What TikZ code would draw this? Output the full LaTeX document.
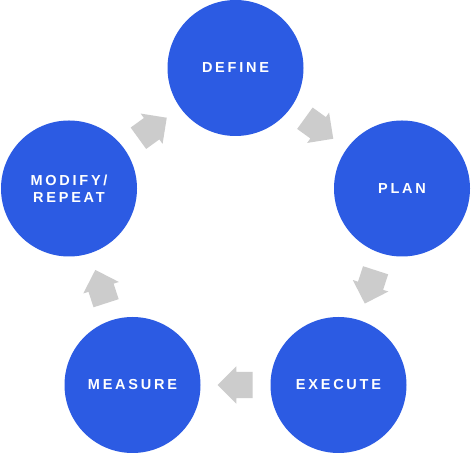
\documentclass[tikz,border=0pt]{standalone}
\usepackage{fontspec}
\setmainfont{Liberation Sans}
\usetikzlibrary{shapes.arrows}

\begin{document}
\begin{tikzpicture}[
        x=1pt,
        y=1pt,
        stage/.style={
            circle,
            fill=stageblue,
            draw=none,
            inner sep=0pt,
            minimum size=136pt,
            text=white,
            align=center,
            font=\fontsize{14.5}{17}\selectfont\bfseries\addfontfeature{LetterSpace=19}
          },
        flow/.style={
            single arrow,
            fill=flowgray,
            draw=none,
            inner xsep=0pt,
            inner ysep=13pt,
            minimum height=35pt,
            single arrow head extend=5.5pt,
            single arrow head indent=0pt,
            pos=0.25,
            anchor=tail,
            sloped,
            allow upside down
          }]
        % Define colors
        \definecolor{stageblue}{HTML}{2C5BE3} % blue
        \definecolor{flowgray}{HTML}{CCCCCC}  % light gray

        % Draw background
        \fill[white] (0,0) rectangle (471,454);
        \useasboundingbox (0,0) rectangle (471,454);

        % Draw stages
        \node[stage] (define) at (235.5,386) {DEFINE};
        \node[stage] (plan) at (402,265.5) {PLAN};
        \node[stage] (execute) at (338.5,69) {EXECUTE};
        \node[stage] (measure) at (132.5,69) {MEASURE};
        \node[stage] (modify) at (69,265.5) {MODIFY/\\REPEAT};

        % Draw arrows between stages
        \path (modify) -- node[flow] (modify-define) {} (define);
        \path (define) -- node[flow] (define-plan) {} (plan);
        \path (plan) -- node[flow] (plan-execute) {} (execute);
        \path (execute) -- node[flow] (execute-measure) {} (measure);
        \path (measure) -- node[flow] (measure-modify) {} (modify);
    \end{tikzpicture}
\end{document}
